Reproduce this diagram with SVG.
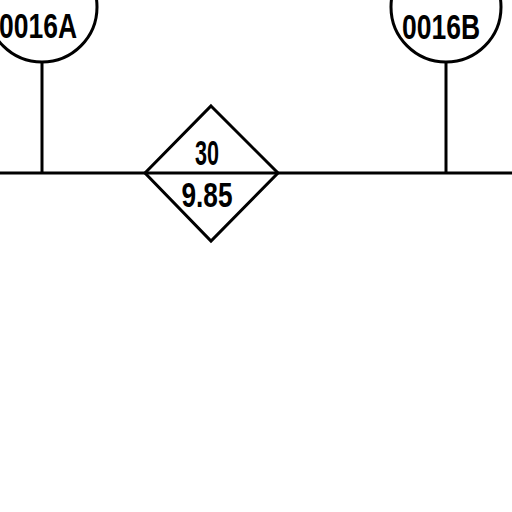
<svg xmlns="http://www.w3.org/2000/svg" width="512" height="512" viewBox="0 0 512 512">
<style>
.ln{stroke:#000;stroke-width:3;fill:none}
.t{font-family:"Liberation Sans",Arial,sans-serif;font-size:35px;font-weight:bold;fill:#000;text-anchor:middle}
</style>
<rect width="512" height="512" fill="#fff"/>
<g id="connectors">
<line class="ln" x1="0" y1="173" x2="145" y2="173"/>
<line class="ln" x1="278" y1="173" x2="512" y2="173"/>
<line class="ln" x1="42" y1="62" x2="42" y2="173"/>
<line class="ln" x1="446" y1="62" x2="446" y2="173"/>
</g>
<g id="node-0016A">
<circle class="ln" cx="42" cy="7" r="55"/>
<text class="t" x="38" y="38" textLength="78" lengthAdjust="spacingAndGlyphs">0016A</text>
</g>
<g id="node-0016B">
<circle class="ln" cx="446" cy="7" r="55"/>
<text class="t" x="441" y="39" textLength="78" lengthAdjust="spacingAndGlyphs">0016B</text>
</g>
<g id="node-diamond">
<polygon class="ln" points="211,106 278,173 211,241 145,173"/>
<line class="ln" x1="145" y1="173" x2="278" y2="173"/>
<text class="t" x="207" y="165" textLength="24" lengthAdjust="spacingAndGlyphs">30</text>
<text class="t" x="207" y="207" textLength="51" lengthAdjust="spacingAndGlyphs">9.85</text>
</g>
</svg>
